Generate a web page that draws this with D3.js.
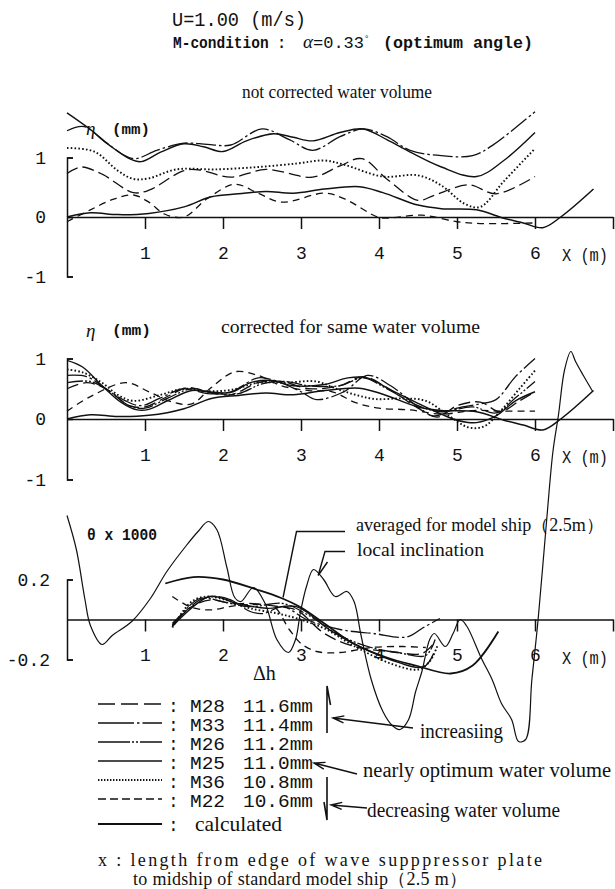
<!DOCTYPE html>
<html>
<head>
<meta charset="utf-8">
<script src="https://cdn.jsdelivr.net/npm/d3@7"></script>
<style>
body{margin:0;background:#fff}
svg{display:block}
</style>
</head>
<body>
<svg id="chart" width="615" height="889"></svg>
<script>
// ---- data (x in m, eta in mm, theta x1000) ----
var xTicks = [1,2,3,4,5,6,7];
var etaTicks = [-1,0,1];
var thetaTicks = [-0.2,0.2];

var seriesNames = ["M28","M33","M26","M25","M36","M22","calculated"];
var seriesDepth = ["11.6mm","11.4mm","11.2mm","11.0mm","10.8mm","10.6mm",""];

// calculated wave height, same in panel 1 and 2
var calcEta = [[0,0],[0.3,0.07],[0.65,0.04],[1.05,0.06],[1.5,0.17],[1.85,0.34],[2.2,0.39],[2.55,0.43],[2.9,0.4],[3.3,0.47],[3.75,0.51],[4.05,0.41],[4.5,0.2],[4.8,0.14],[5.25,0.12],[5.6,-0.02],[5.85,-0.1],[6.1,-0.18],[6.33,0],[6.75,0.47]];

// panel 1 : not corrected water volume
var p1M33 = [[0,1.45],[0.22,1.52],[0.5,1.25],[0.85,0.98],[1.15,1.12],[1.5,1.24],[1.8,1.22],[2.1,1.21],[2.5,1.48],[2.85,1.3],[3.15,1.12],[3.5,1.35],[3.8,1.48],[4.1,1.35],[4.4,1.12],[4.8,1.03],[5.2,1.03],[5.45,1.2],[5.75,1.5],[6.0,1.77]];
var p1M25 = [[0,1.75],[0.3,1.47],[0.55,1.2],[0.8,0.98],[0.95,0.93],[1.2,1.09],[1.5,1.23],[1.75,1.18],[2.0,1.1],[2.3,1.28],[2.65,1.4],[2.9,1.34],[3.15,1.28],[3.5,1.42],[3.8,1.48],[4.1,1.3],[4.4,1.09],[4.8,0.84],[5.25,0.68],[5.6,0.95],[6.0,1.42]];
var p1M36 = [[0,1.16],[0.35,1.1],[0.65,0.78],[0.85,0.64],[1.05,0.65],[1.4,0.8],[1.9,0.8],[2.45,0.84],[2.95,0.9],[3.3,0.95],[3.55,0.88],[4.05,0.68],[4.5,0.7],[4.8,0.53],[5.1,0.22],[5.3,0.17],[5.6,0.6],[6.0,1.15]];
var p1M28 = [[0,0.73],[0.18,0.84],[0.45,0.72],[0.85,0.41],[1.05,0.45],[1.5,0.78],[1.7,0.79],[2.1,0.67],[2.55,0.8],[3.15,0.67],[3.5,0.86],[3.78,0.98],[4.1,0.64],[4.5,0.28],[4.7,0.36],[5.15,0.54],[5.5,0.39],[6.0,0.68]];
var p1M22 = [[0,-0.08],[0.3,0.12],[0.6,0.3],[0.85,0.37],[1.05,0.25],[1.25,0.05],[1.5,0.0],[1.8,0.31],[2.15,0.55],[2.45,0.4],[2.75,0.25],[3.3,0.4],[3.55,0.31],[3.98,0.0],[4.1,-0.02],[4.55,0.03],[5.0,-0.08],[5.3,-0.11],[6.0,-0.1]];

// panel 2 : corrected for same water volume
var p2M25 = [[0,0.97],[0.2,0.86],[0.45,0.55],[0.7,0.27],[0.9,0.15],[1.05,0.16],[1.3,0.31],[1.6,0.47],[1.8,0.45],[2.1,0.44],[2.35,0.6],[2.6,0.64],[2.9,0.55],[3.3,0.57],[3.6,0.68],[3.85,0.68],[4.15,0.48],[4.5,0.26],[4.8,0.08],[5.0,-0.02],[5.25,-0.06],[5.5,0.05],[5.75,0.3],[6.0,0.45]];
var p2M36 = [[0,0.82],[0.2,0.77],[0.45,0.6],[0.65,0.4],[0.85,0.3],[1.2,0.4],[1.5,0.5],[1.8,0.46],[2.1,0.48],[2.45,0.6],[2.8,0.6],[3.2,0.62],[3.45,0.5],[3.7,0.4],[3.95,0.33],[4.3,0.34],[4.6,0.3],[4.9,0.05],[5.15,-0.14],[5.35,-0.12],[5.55,0.12],[5.8,0.5],[6.0,0.8]];
var p2M33 = [[0,0.72],[0.25,0.7],[0.5,0.5],[0.75,0.3],[0.95,0.22],[1.2,0.35],[1.5,0.5],[1.8,0.42],[2.1,0.45],[2.45,0.68],[2.7,0.62],[3.0,0.45],[3.2,0.32],[3.55,0.45],[3.85,0.72],[4.15,0.55],[4.5,0.2],[4.7,0.05],[5.0,0.18],[5.3,0.25],[5.5,0.32],[5.75,0.7],[6.0,1.0]];
var p2M26 = [[0,0.6],[0.3,0.62],[0.55,0.45],[0.8,0.22],[1.0,0.18],[1.3,0.35],[1.6,0.5],[1.9,0.42],[2.2,0.42],[2.5,0.58],[2.8,0.62],[3.1,0.55],[3.5,0.55],[3.8,0.68],[4.1,0.5],[4.5,0.22],[4.8,0.12],[5.2,0.2],[5.5,0.1],[5.75,0.35],[6.0,0.62]];
var p2M28 = [[0,0.5],[0.25,0.6],[0.5,0.5],[0.8,0.22],[1.0,0.2],[1.3,0.38],[1.55,0.52],[1.8,0.45],[2.1,0.4],[2.45,0.6],[2.75,0.62],[3.1,0.5],[3.5,0.55],[3.8,0.7],[4.1,0.52],[4.5,0.18],[4.75,0.03],[5.0,0.22],[5.3,0.28],[5.55,0.12],[5.8,0.3],[6.0,0.45]];
var p2M22 = [[0,0.13],[0.3,0.37],[0.75,0.6],[1.05,0.45],[1.35,0.28],[1.6,0.25],[1.85,0.52],[2.15,0.78],[2.45,0.72],[2.75,0.55],[3.1,0.47],[3.4,0.45],[3.7,0.27],[4.0,0.18],[4.4,0.15],[4.8,0.08],[5.2,0.14],[5.6,0.13],[6.0,0.13]];

// panel 3 : inclination theta x 1000
var p3M22 = [[1.35,0.115],[1.6,0.06],[1.85,0.048],[2.1,0.066],[2.4,0.075],[2.65,0.065],[2.85,-0.05],[3.0,-0.12],[3.2,-0.16],[3.5,-0.165],[3.9,-0.14],[4.3,-0.135],[4.6,-0.14]];
var p3M36 = [[1.35,-0.04],[1.6,0.09],[1.8,0.115],[2.1,0.09],[2.35,0.056],[2.7,0.03],[2.95,0.005],[3.3,-0.045],[3.7,-0.137],[4.15,-0.22],[4.5,-0.25],[4.65,-0.21],[4.75,-0.13]];
var p3M28 = [[1.35,-0.02],[1.6,0.065],[1.85,0.098],[2.1,0.08],[2.35,0.08],[2.7,0.065],[2.95,0.045],[3.3,-0.07],[3.7,-0.137],[4.15,-0.16],[4.55,-0.17],[4.7,-0.12]];
var p3M33 = [[1.35,-0.03],[1.7,0.098],[1.92,0.115],[2.1,0.098],[2.35,0.04],[2.52,0.03],[2.77,0.064],[3.07,0.0],[3.5,-0.05],[3.93,-0.07],[4.36,-0.087],[4.57,-0.04],[4.78,0.005]];
var p3M26 = [[1.35,-0.03],[1.7,0.105],[2.0,0.088],[2.35,0.064],[2.77,0.08],[3.1,0.02],[3.5,-0.08],[3.9,-0.14],[4.3,-0.17],[4.6,-0.18],[4.72,-0.1]];
var p3M25 = [[1.35,-0.035],[1.83,0.115],[2.18,0.08],[2.56,0.056],[2.94,0.064],[3.37,-0.053],[3.76,-0.137],[4.14,-0.2],[4.57,-0.237],[4.7,-0.17]];
var p3Averaged = [[1.26,0.18],[1.62,0.212],[2.0,0.2],[2.43,0.15],[2.73,0.11],[3.0,0.06],[3.3,-0.02],[3.67,-0.12],[4.1,-0.19],[4.47,-0.23],[4.92,-0.27],[5.2,-0.23],[5.53,-0.06]];
var p3Local = [[0,0.52],[0.12,0.35],[0.23,0.1],[0.3,-0.03],[0.45,-0.125],[0.58,-0.08],[0.83,-0.01],[1.06,0.1],[1.28,0.24],[1.53,0.37],[1.68,0.44],[1.81,0.49],[1.92,0.45],[2.05,0.26],[2.15,0.11],[2.23,0.09],[2.39,0.16],[2.54,0.08],[2.69,-0.1],[2.84,-0.165],[2.93,-0.1],[2.99,0.03],[3.07,0.165],[3.16,0.25],[3.29,0.2],[3.44,0.115],[3.59,0.14],[3.68,0.09],[3.77,-0.08],[3.9,-0.3],[4.05,-0.46],[4.17,-0.53],[4.27,-0.55],[4.38,-0.5],[4.47,-0.36],[4.55,-0.26],[4.65,-0.1],[4.71,-0.07],[4.85,-0.135],[4.95,-0.07],[5.04,0.0],[5.12,-0.03],[5.32,-0.2],[5.45,-0.3],[5.57,-0.42],[5.7,-0.5],[5.79,-0.61],[5.88,-0.6],[5.96,-0.3],[6.04,0.0],[6.15,0.5],[6.23,0.84],[6.3,1.02],[6.38,1.25],[6.46,1.34],[6.52,1.29],[6.62,1.22],[6.74,1.14]];

// ---- styles ----
var ink = "#111";
var mono = "'Liberation Mono','DejaVu Sans Mono',monospace";
var serif = "'Liberation Serif','Times New Roman',serif";
var dash = {M28:"12,5", M33:"20,3,2.5,3", M26:"16,2,2,2,2,2", M25:null, M36:"1.6,2.2", M22:"7,5", calculated:null};
var legendDash = {M28:"17,6", M33:"36,3,2.5,3", M26:"32,2,2,2,2,2", M25:null, M36:"1.4,1.6", M22:"8,4", calculated:null};
var width = {M28:1.3, M33:1.3, M26:1.3, M25:1.4, M36:1.9, M22:1.3, calculated:1.7};

var svg = d3.select("#chart");
svg.append("rect").attr("width",615).attr("height",889).attr("fill","#fff");

var x = d3.scaleLinear().domain([0,7]).range([67,613]);
var y1 = d3.scaleLinear().domain([-1,1]).range([276.5,157.5]);
var y2 = d3.scaleLinear().domain([-1,1]).range([479.5,358.5]);
var y3 = d3.scaleLinear().domain([-0.2,0.2]).range([659.5,579.5]);

function txt(s, px, py, font, size, len, opts){
	var t = svg.append("text").attr("x",px).attr("y",py)
		.attr("font-family",font).attr("font-size",size).attr("fill",ink).text(s);
	if(len) t.attr("textLength",len).attr("lengthAdjust",(opts && opts.spacing) ? "spacing" : "spacingAndGlyphs");
	if(opts && opts.bold) t.attr("font-weight","bold");
	if(opts && opts.italic) t.attr("font-style","italic");
	return t;
}

function drawAxes(ys, ticks, pad){
	var gx = svg.append("g").attr("transform","translate(0,"+ys(0)+")")
		.call(d3.axisBottom(x).tickValues(xTicks).tickSize(12).tickSizeOuter(0).tickPadding(17)
			.tickFormat(function(d){ return d===7 ? "" : d; }));
	var gy = svg.append("g").attr("transform","translate("+x(0)+",0)")
		.call(d3.axisLeft(ys).tickValues(ticks).tickSize(-6).tickSizeOuter(-6).tickPadding(pad)
			.tickFormat(function(d){ return String(d); }));
	[gx,gy].forEach(function(g){
		g.attr("font-family",null).attr("font-size",null);
		g.selectAll("path,line").attr("stroke",ink).attr("stroke-width",1.5);
		g.selectAll("text").attr("fill",ink).attr("font-family",mono).attr("font-size",18);
	});
	txt("X (m)", 562, ys(0)+44, mono, 18, 46);
}

function drawLines(ys, list){
	var line = d3.line().x(function(d){return x(d[0]);}).y(function(d){return ys(d[1]);})
		.curve(d3.curveCatmullRom.alpha(0.5));
	list.forEach(function(s){
		svg.append("path").datum(s.data).attr("d",line)
			.attr("fill","none").attr("stroke",ink)
			.attr("stroke-width",s.w || width[s.name])
			.attr("stroke-dasharray",dash[s.name])
			.attr("stroke-linejoin","round");
	});
}

// ---- titles ----
txt("U=1.00 (m/s)", 172, 26, mono, 21, 134);
svg.append("g").attr("transform","translate(173,48) scale(1,1.2)")
	.append("text").attr("x",0).attr("y",0).attr("fill",ink)
	.attr("font-family",mono).attr("font-weight","bold").attr("font-size",14.5).text("M-condition :");
var cond = svg.append("text").attr("x",303).attr("y",48).attr("fill",ink);
cond.append("tspan").attr("font-family",serif).attr("font-style","italic").attr("font-size",19).text("\u03b1");
cond.append("tspan").attr("font-family",mono).attr("font-size",17).text("=0.33");
cond.append("tspan").attr("font-family",mono).attr("font-size",9).attr("dy",-7).text("\u00b0");
txt("(optimum angle)", 383, 48, mono, 17, 150, {bold:true});
txt("not corrected water volume", 242, 98, serif, 18, 190);

// ---- panel 1 ----
drawAxes(y1, etaTicks, 21);
drawLines(y1, [
	{name:"M33", data:p1M33},
	{name:"M25", data:p1M25},
	{name:"M36", data:p1M36},
	{name:"M28", data:p1M28},
	{name:"M22", data:p1M22},
	{name:"calculated", data:calcEta, w:1.5}
]);
txt("\u03b7", 86, 135, serif, 19, null, {italic:true});
txt("(mm)", 112, 134, mono, 15, 38, {bold:true});

// ---- panel 2 ----
drawAxes(y2, etaTicks, 21);
drawLines(y2, [
	{name:"M28", data:p2M28},
	{name:"M33", data:p2M33},
	{name:"M26", data:p2M26},
	{name:"M25", data:p2M25},
	{name:"M36", data:p2M36},
	{name:"M22", data:p2M22},
	{name:"calculated", data:calcEta, w:1.5}
]);
txt("\u03b7", 86, 337, serif, 19, null, {italic:true});
txt("(mm)", 112, 335, mono, 15, 39, {bold:true});
txt("corrected for same water volume", 221, 333, serif, 19, 259);

// ---- panel 3 ----
drawAxes(y3, thetaTicks, 17);
drawLines(y3, [
	{name:"M28", data:p3M28},
	{name:"M33", data:p3M33},
	{name:"M26", data:p3M26},
	{name:"M25", data:p3M25},
	{name:"M36", data:p3M36},
	{name:"M22", data:p3M22},
	{name:"calculated", data:p3Averaged, w:1.8},
	{name:"calculated", data:p3Local, w:1.2}
]);
txt("\u03b8 x 1000", 87, 540, mono, 17, 70, {bold:true});
txt("\u0394h", 253, 680, serif, 20);
txt("averaged for model ship\uff082.5m\uff09", 356, 531, serif, 18, 248);
txt("local inclination", 357, 556, serif, 19, 127);

// leader lines
svg.append("path").attr("fill","none").attr("stroke",ink).attr("stroke-width",1.4)
	.attr("d","M345,531.5H296.5L"+x(2.77)+","+y3(0.11));
svg.append("path").attr("fill","none").attr("stroke",ink).attr("stroke-width",1.4)
	.attr("d","M345,551.5H325L"+x(3.22)+","+y3(0.22)+"M327.5,562L"+x(3.22)+","+y3(0.22));

// ---- legend ----
var rowY = [712,731,750,769,788,807];
seriesNames.forEach(function(name,i){
	var by = i<6 ? rowY[i] : 831;
	var ly = i<6 ? by-8 : by-7;
	svg.append("line").attr("x1",98).attr("x2",162).attr("y1",ly).attr("y2",ly)
		.attr("stroke",ink).attr("stroke-width",i<6 ? width[name] : 2)
		.attr("stroke-dasharray",legendDash[name]);
	txt(":", 168, by, mono, 18);
	if(i<6){
		txt(name, 190, by, mono, 18, 35);
		txt(seriesDepth[i], 243, by, mono, 18, 70);
	}else{
		txt("calculated", 195, by, serif, 21, 87);
	}
});

// arrows
function arrow(x0,y0,x1,y1){
	var dx=x1-x0, dy=y1-y0, L=Math.sqrt(dx*dx+dy*dy), ux=dx/L, uy=dy/L;
	var bx=x1-11*ux, by=y1-11*uy;
	svg.append("path").attr("fill","none").attr("stroke",ink).attr("stroke-width",1.4)
		.attr("d","M"+x0+","+y0+"L"+x1+","+y1
			+"M"+(bx-3.5*uy)+","+(by+3.5*ux)+"L"+x1+","+y1+"L"+(bx+3.5*uy)+","+(by-3.5*ux));
}
svg.append("path").attr("fill","none").attr("stroke",ink).attr("stroke-width",1.6)
	.attr("d","M327,733V686L330.5,705M327,777V820L324,802");
arrow(413,728,333,718);
arrow(357,774,314,763);
arrow(367,808,331,805);
txt("increasiing", 420, 738, serif, 20, 83);
txt("nearly optimum water volume", 363, 777, serif, 20, 248);
txt("decreasing water volume", 367, 817, serif, 20, 193);

// footnote
txt("x : length from edge of wave supppressor plate", 98, 866, serif, 18, 444, {spacing:true});
txt("to midship of standard model ship\uff082.5 m\uff09", 133, 885, serif, 18, 334, {spacing:true});
</script>
</body>
</html>
